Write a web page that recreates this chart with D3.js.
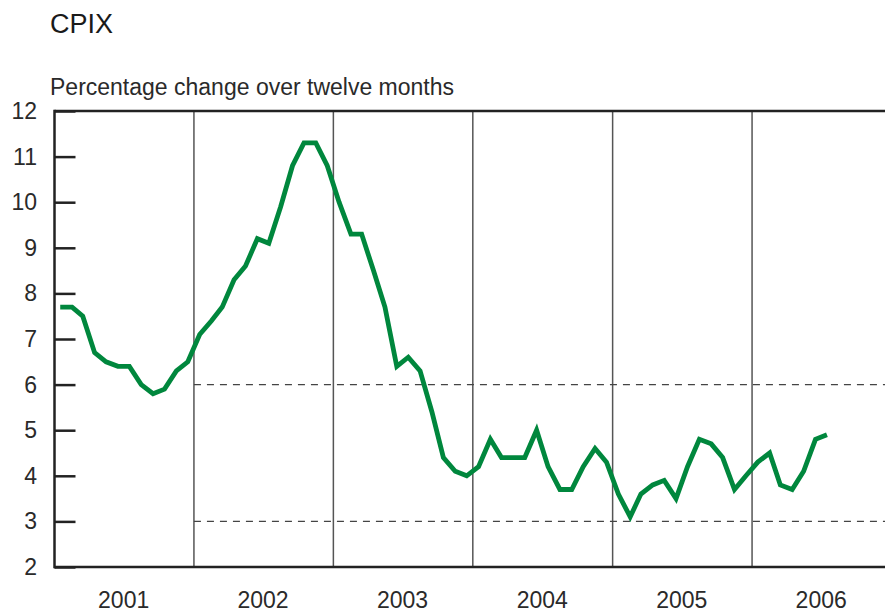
<!DOCTYPE html>
<html>
<head>
<meta charset="utf-8">
<script src="https://cdn.jsdelivr.net/npm/d3@7"></script>
<style>
  body { margin: 0; background: #fff; }
  svg { display: block; font-family: "Liberation Sans", Arial, sans-serif; }
</style>
</head>
<body>
<svg id="chart" width="885" height="612"></svg>
<script>
// CPIX, twelve-month % change, monthly from Jan 2001
const startYear = 2001;
const years = [2001, 2002, 2003, 2004, 2005, 2006];
const cpix = [
  7.7, 7.7, 7.5, 6.7, 6.5, 6.4, 6.4, 6.0, 5.8, 5.9, 6.3, 6.5,      // 2001
  7.1, 7.4, 7.7, 8.3, 8.6, 9.2, 9.1, 9.9, 10.8, 11.3, 11.3, 10.8,  // 2002
  10.0, 9.3, 9.3, 8.5, 7.7, 6.4, 6.6, 6.3, 5.4, 4.4, 4.1, 4.0,     // 2003
  4.2, 4.8, 4.4, 4.4, 4.4, 5.0, 4.2, 3.7, 3.7, 4.2, 4.6, 4.3,      // 2004
  3.6, 3.1, 3.6, 3.8, 3.9, 3.5, 4.2, 4.8, 4.7, 4.4, 3.7, 4.0,      // 2005
  4.3, 4.5, 3.8, 3.7, 4.1, 4.8, 4.9                                // 2006
];
const yTicks = [2, 3, 4, 5, 6, 7, 8, 9, 10, 11, 12];
const targetBand = [3, 6];

const svg = d3.select("#chart");
const plotLeft = 54.5, plotTop = 111, plotBottom = 567;
const yearWidth = 139.5;

const x = d3.scaleTime()
  .domain([new Date(startYear, 0, 1), new Date(startYear + years.length, 0, 1)])
  .range([plotLeft, plotLeft + yearWidth * years.length]);
const y = d3.scaleLinear().domain([2, 12]).range([plotBottom, plotTop]);

const data = cpix.map((v, i) => ({ date: new Date(startYear, i, 16), v }));

// title + subtitle
svg.append("text").attr("x", 50).attr("y", 33)
  .attr("font-size", 27).attr("fill", "#1a1a1a").text("CPIX");
svg.append("text").attr("x", 50).attr("y", 95)
  .attr("font-size", 23).attr("fill", "#2a2a2a").text("Percentage change over twelve months");

// year dividers
svg.append("g").selectAll("line")
  .data(years.slice(1))
  .join("line")
  .attr("x1", d => x(new Date(d, 0, 1))).attr("x2", d => x(new Date(d, 0, 1)))
  .attr("y1", plotTop).attr("y2", plotBottom)
  .attr("stroke", "#555").attr("stroke-width", 1.5);

// inflation target band (dashed), from 2002
svg.append("g").selectAll("line")
  .data(targetBand)
  .join("line")
  .attr("x1", x(new Date(2002, 0, 1))).attr("x2", 885)
  .attr("y1", d => y(d)).attr("y2", d => y(d))
  .attr("stroke", "#444").attr("stroke-width", 1.3)
  .attr("stroke-dasharray", "7,6");

// frame: top and bottom
svg.append("line").attr("x1", plotLeft).attr("x2", 885).attr("y1", plotTop).attr("y2", plotTop)
  .attr("stroke", "#222").attr("stroke-width", 2.5);
svg.append("line").attr("x1", plotLeft).attr("x2", 885).attr("y1", plotBottom).attr("y2", plotBottom)
  .attr("stroke", "#222").attr("stroke-width", 2.5);

// y axis, ticks inside
const yAxis = svg.append("g")
  .attr("transform", `translate(${plotLeft},0)`)
  .call(d3.axisRight(y).tickValues(yTicks).tickSize(21).tickFormat(""));
yAxis.select(".domain").remove();
yAxis.selectAll(".tick line").attr("stroke", "#222").attr("stroke-width", 2.5);
svg.append("line").attr("x1", plotLeft).attr("x2", plotLeft).attr("y1", plotTop - 1.2).attr("y2", plotBottom + 1.2)
  .attr("stroke", "#222").attr("stroke-width", 2.5);

svg.append("g").selectAll("text")
  .data(yTicks)
  .join("text")
  .attr("x", 37).attr("y", d => y(d) + 8)
  .attr("text-anchor", "end").attr("font-size", 23).attr("fill", "#2a2a2a")
  .text(d => d);

// year labels
svg.append("g").selectAll("text")
  .data(years)
  .join("text")
  .attr("x", d => x(new Date(d, 6, 1)))
  .attr("y", 608)
  .attr("text-anchor", "middle").attr("font-size", 23).attr("fill", "#2a2a2a")
  .text(d => d);

// CPIX line
const line = d3.line().x(d => x(d.date)).y(d => y(d.v));
svg.append("path")
  .datum(data)
  .attr("d", line)
  .attr("fill", "none")
  .attr("stroke", "#00873d")
  .attr("stroke-width", 4.8)
  .attr("stroke-linejoin", "miter")
  .attr("stroke-linecap", "butt");
</script>
</body>
</html>
